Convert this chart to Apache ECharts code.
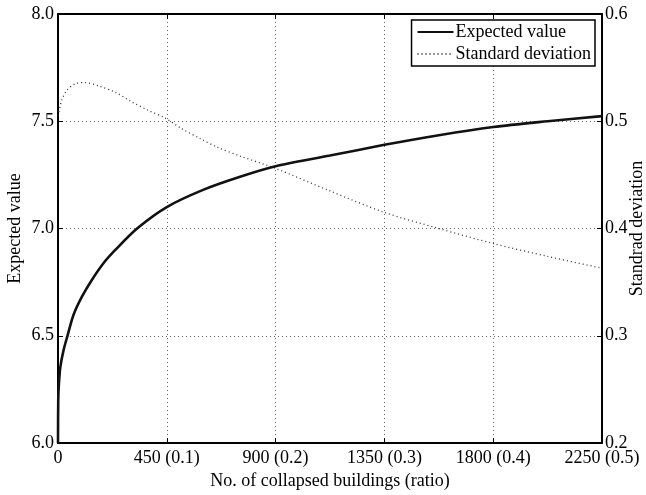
<!DOCTYPE html>
<html>
<head>
<meta charset="utf-8">
<script src="https://cdn.jsdelivr.net/npm/echarts@6/dist/echarts.min.js"></script>
<style>
  html, body { margin: 0; padding: 0; background: #fff; }
  #chart { width: 646px; height: 495px; }
</style>
</head>
<body>
<div id="chart"></div>
<script>
// Number of collapsed buildings at each sample
const buildings = [0, 1, 4, 10, 23, 40, 64, 99, 140, 188, 237, 327, 450, 600, 750, 900, 1125, 1350, 1575, 1800, 2025, 2250];
// Expected value (left axis)
const expectedValue = [6.0, 6.2, 6.28, 6.356, 6.433, 6.503, 6.597, 6.682, 6.76, 6.838, 6.90, 7.0, 7.10, 7.18, 7.24, 7.29, 7.34, 7.39, 7.435, 7.473, 7.50, 7.524];

// Standard deviation (right axis)
const sdBuildings = [0, 9, 16, 37, 72, 113, 168, 237, 306, 375, 443, 512, 587, 657, 760, 900, 1125, 1350, 1575, 1800, 2025, 2250];
const standardDeviation = [0.505, 0.514, 0.520, 0.529, 0.535, 0.536, 0.533, 0.527, 0.518, 0.510, 0.503, 0.493, 0.484, 0.476, 0.467, 0.456, 0.435, 0.415, 0.400, 0.386, 0.374, 0.363];

// Bottom axis tick labels
const xTickValues = [0, 450, 900, 1350, 1800, 2250];
const xTickLabels = ['0', '450 (0.1)', '900 (0.2)', '1350 (0.3)', '1800 (0.4)', '2250 (0.5)'];

const FONT = 'Liberation Serif';
const FS = 18;
const chart = echarts.init(document.getElementById('chart'), null, { renderer: 'canvas' });

const gridDots = { show: true, lineStyle: { color: '#666', width: 1, type: [1, 3] } };
const frame = { show: true, onZero: false, lineStyle: { color: '#000', width: 2 } };
const inTicks = { show: true, inside: true, length: 5, lineStyle: { color: '#000', width: 1 } };
const nameText = { fontFamily: FONT, fontSize: FS, color: '#000' };

chart.setOption({
  backgroundColor: '#fff',
  animation: false,
  textStyle: { fontFamily: FONT, color: '#000' },
  grid: { left: 58, right: 44, top: 14, bottom: 52, containLabel: false, outerBoundsMode: 'none' },
  legend: {
    orient: 'vertical',
    right: 51,
    top: 20,
    itemWidth: 36,
    itemHeight: 14,
    itemGap: 4,
    padding: [3, 4, 3, 5],
    backgroundColor: '#fff',
    borderColor: '#000',
    borderWidth: 1.5,
    borderRadius: 0,
    itemStyle: { color: 'transparent', borderWidth: 0, opacity: 0 },
    textStyle: { fontFamily: FONT, fontSize: FS, color: '#000', padding: [0, 0, 0, -3] },
    data: ['Expected value', 'Standard deviation']
  },
  xAxis: [
    {
      type: 'value', position: 'bottom', min: 0, max: 2250, interval: 450,
      name: 'No. of collapsed buildings (ratio)', nameLocation: 'middle', nameGap: 29,
      nameMoveOverlap: false,
      nameTextStyle: nameText,
      axisLine: frame, axisTick: inTicks,
      axisLabel: {
        fontFamily: FONT, fontSize: FS, color: '#000', margin: 6,
        formatter: v => xTickLabels[xTickValues.indexOf(v)] ?? ''
      },
      splitLine: gridDots
    },
    {
      type: 'value', position: 'top', min: 0, max: 2250, interval: 450,
      axisLine: frame, axisTick: inTicks, axisLabel: { show: false }, splitLine: { show: false }
    }
  ],
  yAxis: [
    {
      type: 'value', position: 'left', min: 6, max: 8, interval: 0.5,
      name: 'Expected value', nameLocation: 'middle', nameGap: 34, nameRotate: 90,
      nameMoveOverlap: false,
      nameTextStyle: nameText,
      axisLine: frame, axisTick: inTicks,
      axisLabel: { fontFamily: FONT, fontSize: FS, color: '#000', margin: 4, formatter: v => v.toFixed(1) },
      splitLine: gridDots
    },
    {
      type: 'value', position: 'right', min: 0.2, max: 0.6, interval: 0.1,
      name: 'Standrad deviation', nameLocation: 'middle', nameGap: 26, nameRotate: 90,
      nameMoveOverlap: false,
      nameTextStyle: nameText,
      axisLine: frame, axisTick: inTicks,
      axisLabel: { fontFamily: FONT, fontSize: FS, color: '#000', margin: 3, formatter: v => v.toFixed(1) },
      splitLine: { show: false }
    }
  ],
  series: [
    {
      name: 'Expected value', type: 'line', xAxisIndex: 0, yAxisIndex: 0,
      smooth: 0.3, symbol: 'none',
      lineStyle: { color: '#111', width: 2.6 },
      itemStyle: { color: '#111' },
      data: buildings.map((b, i) => [b, expectedValue[i]]),
      z: 3
    },
    {
      name: 'Standard deviation', type: 'line', xAxisIndex: 0, yAxisIndex: 1,
      smooth: 0.3, symbol: 'none',
      lineStyle: { color: '#333', width: 1.3, type: [1, 3] },
      itemStyle: { color: '#333' },
      data: sdBuildings.map((b, i) => [b, standardDeviation[i]]),
      z: 2
    }
  ]
});
</script>
</body>
</html>
